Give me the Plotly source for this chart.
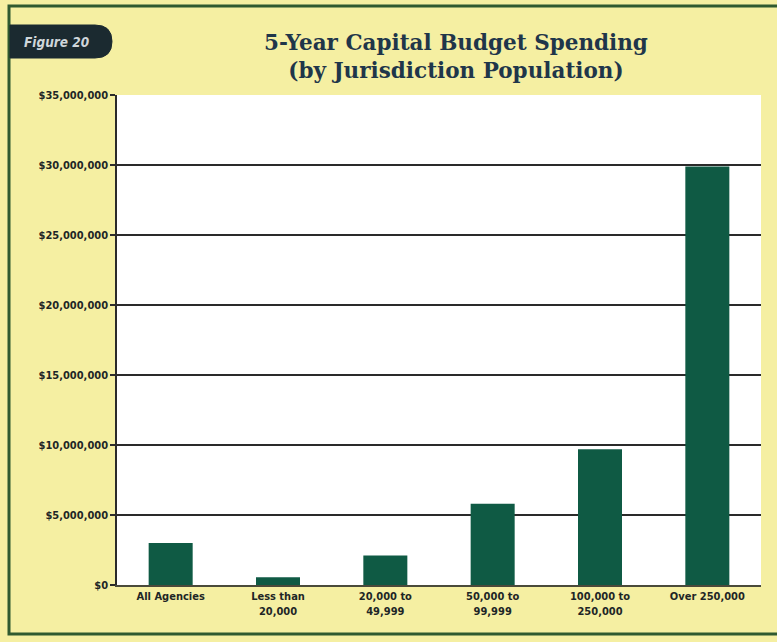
import plotly.graph_objects as go

categories = ["All Agencies", "Less than<br>20,000", "20,000 to<br>49,999",
              "50,000 to<br>99,999", "100,000 to<br>250,000", "Over 250,000"]
spending = [3000000, 550000, 2100000, 5800000, 9700000, 29900000]
tick_vals = [0, 5000000, 10000000, 15000000, 20000000, 25000000, 30000000, 35000000]
tick_text = ["$0", "$5,000,000", "$10,000,000", "$15,000,000", "$20,000,000",
             "$25,000,000", "$30,000,000", "$35,000,000"]

W, H = 777, 642
L, R, T, B = 117, 16, 95, 57
pw, ph = W - L - R, H - T - B

def px(x):
    return (x - L) / pw

def py(y):
    return (H - B - y) / ph

label_font = dict(family="DejaVu Sans Condensed, DejaVu Sans, sans-serif",
                  size=11, color="#1e2626", weight="bold")

fig = go.Figure(go.Bar(
    x=categories, y=spending, width=0.41,
    marker=dict(color="#0f5a44", line=dict(width=0)),
))

fig.update_layout(
    width=W, height=H,
    margin=dict(l=L, r=R, t=T, b=B, pad=0),
    paper_bgcolor="#f5efa2",
    plot_bgcolor="#ffffff",
    showlegend=False,
)
fig.update_yaxes(
    range=[0, 35000000], tickvals=tick_vals, ticktext=tick_text,
    showgrid=True, gridcolor="#2a2a2a", gridwidth=1.5,
    ticks="outside", ticklen=5, tickcolor="#2a2a2a", tickwidth=1.5,
    showline=True, linecolor="#2a2a2a", linewidth=1.5,
    tickfont=label_font, zeroline=False,
)
fig.update_xaxes(
    showline=True, linecolor="#4a4a3a", linewidth=2,
    tickfont=label_font, ticks="",
)

# outer border
fig.add_shape(type="rect", xref="paper", yref="paper",
              x0=px(9), x1=px(800), y0=py(634), y1=py(6),
              line=dict(color="#2f5a30", width=3), fillcolor="rgba(0,0,0,0)", layer="below")

# figure badge
fig.add_shape(type="path", xref="paper", yref="paper",
              xsizemode="pixel", ysizemode="pixel", xanchor=0, yanchor=1,
              path="M -107,37 L -107,70 L -22,70 Q -5,70 -5,53.5 Q -5,37 -22,37 Z",
              fillcolor="#1b2a30", line=dict(color="#1b2a30", width=1))
fig.add_annotation(x=px(57), y=py(42), xref="paper", yref="paper",
                   xanchor="center", yanchor="middle",
                   text="<i><b>Figure 20</b></i>", showarrow=False,
                   font=dict(family="DejaVu Sans Condensed, DejaVu Sans, sans-serif",
                             size=13.5, color="#cfd6da"))

# title
fig.add_annotation(x=px(456), y=py(57), xref="paper", yref="paper",
                   xanchor="center", yanchor="middle",
                   text="<b>5-Year Capital Budget Spending<br>(by Jurisdiction Population)</b>",
                   showarrow=False, align="center",
                   font=dict(family="DejaVu Serif, Liberation Serif, serif", size=21.5, color="#1f364a"))

fig.write_html("out.html")
